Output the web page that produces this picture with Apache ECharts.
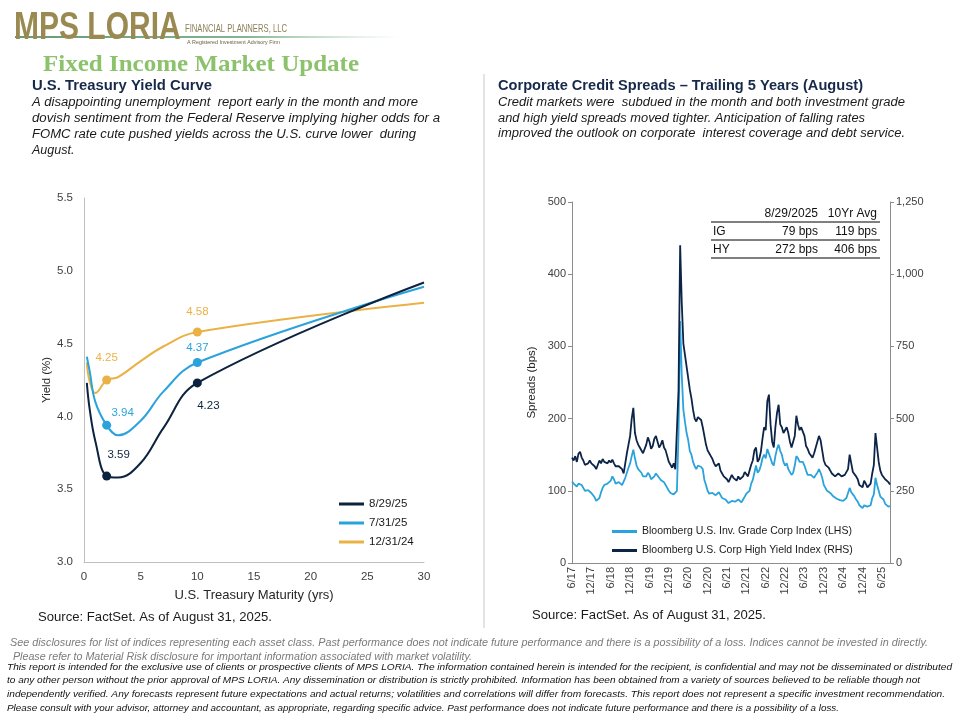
<!DOCTYPE html>
<html>
<head>
<meta charset="utf-8">
<script src="https://cdn.jsdelivr.net/npm/echarts@6/dist/echarts.min.js"></script>
<style>
html,body{margin:0;padding:0;background:#fff;}
#chart{width:960px;height:720px;}
</style>
</head>
<body>
<div id="chart"></div>
<script>
// ---------- Treasury yield curve data ----------
const maturities = [0.25, 0.5, 1, 2, 3, 5, 7, 10, 30];
const yields_082925 = [4.23, 4.05, 3.83, 3.59, 3.58, 3.68, 3.92, 4.23, 4.92];
const yields_073125 = [4.41, 4.31, 4.10, 3.94, 3.87, 3.97, 4.17, 4.37, 4.89];
const yields_123124 = [4.37, 4.24, 4.16, 4.25, 4.27, 4.38, 4.48, 4.58, 4.78];
const curveNames = ['8/29/25', '7/31/25', '12/31/24'];
const labeledMaturities = [2, 10];

// ---------- Credit spread data (two readings per month, Jun-2017 .. Aug-2025) ----------
const spreadStart = {year: 2017, month: 6};
const igSpread = [
 113,110, 108,106, 110,112, 108,104, 100,98, 101,99, 97,96,
 91,86, 84,90, 98,104, 108,106, 110,112, 114,120, 116,110, 108,112, 110,108, 110,118, 125,132, 138,148,
 157,145, 135,130, 128,125, 120,118, 120,125, 122,116, 118,120, 124,122, 118,115, 114,112, 108,104, 100,97,
 96,95, 94,100, 180,335, 260,212, 195,180, 170,155, 150,140, 134,130, 135,137, 133,130, 115,108, 100,96,
 98,97, 96,94, 95,98, 94,90, 90,88, 86,83, 82,86, 87,85, 85,88, 86,84, 88,92, 96,95,
 100,110, 115,125, 135,125, 128,135, 145,150, 145,158, 160,145, 138,135, 148,158, 164,155, 150,140, 135,138,
 130,128, 122,125, 135,148, 145,140, 142,140, 135,128, 122,120, 122,120, 118,122, 125,130, 125,118, 108,104,
 100,99, 97,95, 92,90, 89,88, 87,86, 86,88, 90,92, 104,98, 95,92, 88,85, 80,78, 76,80,
 80,78, 78,80, 90,95, 118,108, 100,92, 90,88, 82,80, 78,79
];
const hySpread = [
 365,355, 370,350, 378,385, 365,355, 340,335, 345,355, 345,340,
 335,325, 340,355, 345,360, 350,345, 345,355, 348,358, 345,335, 340,335, 330,325, 310,345, 380,410, 440,500,
 537,450, 425,410, 400,395, 380,385, 410,435, 420,395, 405,430, 440,420, 400,410, 425,400, 390,385, 350,340,
 330,345, 325,330, 600,1100, 900,760, 720,680, 640,600, 570,530, 500,490, 505,510, 495,470, 440,410, 390,380,
 370,360, 345,335, 335,345, 320,310, 300,295, 290,280, 275,305, 295,290, 285,300, 290,285, 300,315, 310,300,
 305,340, 355,390, 400,350, 360,385, 430,470, 460,560, 583,480, 420,400, 470,520, 548,480, 470,450, 455,470,
 450,420, 400,405, 440,510, 480,460, 470,455, 440,405, 395,380, 375,365, 380,400, 420,440, 425,390, 355,340,
 335,330, 320,310, 305,300, 305,310, 305,300, 300,305, 310,325, 375,345, 315,310, 300,290, 270,265, 262,285,
 275,262, 260,275, 310,340, 450,400, 350,320, 305,300, 290,285, 280,272
];
const spreadNames = ['Bloomberg U.S. Inv. Grade Corp Index (LHS)', 'Bloomberg U.S. Corp High Yield Index (RHS)'];
const tableHeader = ['', '8/29/2025', '10Yr Avg'];
const tableRows = [['IG', '79 bps', '119 bps'], ['HY', '272 bps', '406 bps']];

// category dates
const spreadDates = [];
for (let i = 0; i < igSpread.length; i++) {
  const mIdx = Math.floor(i / 2);
  const tot = spreadStart.month - 1 + mIdx;
  const y = spreadStart.year + Math.floor(tot / 12);
  const mo = tot % 12 + 1;
  spreadDates.push(y + '-' + String(mo).padStart(2, '0') + '-' + (i % 2 ? '15' : '01'));
}

// ---------- Colours / fonts ----------
const C_DARK = '#0c2340', C_BLUE = '#2aa3dc', C_GOLD = '#eab245';
const SANS = '"Liberation Sans", Arial, sans-serif';
const AXIS_TXT = '#404040';

const measureCtx = document.createElement('canvas').getContext('2d');
function fit(text, font, width) {
  measureCtx.font = font;
  const w = measureCtx.measureText(text).width;
  return w > 0 ? width / w : 1;
}
function txt(x, y, text, font, fill, extra) {
  extra = extra || {};
  const el = {
    type: 'text', x: x, y: y, silent: true,
    style: {text: text, font: font, fill: fill, textAlign: extra.align || 'left', textVerticalAlign: 'middle'}
  };
  if (extra.width) { el.scaleX = fit(text, font, extra.width); }
  if (extra.scaleY) { el.scaleY = extra.scaleY; }
  return el;
}
function hline(x1, x2, y, stroke, w) {
  return {type: 'line', silent: true, shape: {x1: x1, y1: y, x2: x2, y2: y}, style: {stroke: stroke, lineWidth: w || 1}};
}

// ---------- Left chart series ----------
const curveData = [yields_082925, yields_073125, yields_123124];
const curveColors = [C_DARK, C_BLUE, C_GOLD];
const labelCfg = [
  {2: {position: 'top', distance: 11, offset: [12, 0]}, 10: {position: 'bottom', distance: 12, offset: [11, 0]}},
  {2: {position: 'top', distance: 2, offset: [16, 0]}, 10: {position: 'top', distance: 4, offset: [0, 0]}},
  {2: {position: 'top', distance: 12, offset: [0, 0]}, 10: {position: 'top', distance: 10, offset: [0, 0]}}
];
const curveSeries = curveData.map(function (vals, s) {
  return {
    name: curveNames[s], type: 'line', xAxisIndex: 0, yAxisIndex: 0,
    smooth: 0.4, z: 10 - s,
    lineStyle: {color: curveColors[s], width: 2},
    itemStyle: {color: curveColors[s]},
    symbol: 'circle', symbolSize: 9, showSymbol: true,
    emphasis: {disabled: true},
    data: maturities.map(function (m, i) {
      if (labeledMaturities.indexOf(m) >= 0) {
        const lc = labelCfg[s][m];
        return {value: [m, vals[i]], symbol: 'circle', symbolSize: 9,
          label: {show: true, position: lc.position, distance: lc.distance, offset: lc.offset,
            formatter: function (p) { return p.value[1].toFixed(2); },
            color: curveColors[s], fontSize: 11.5, fontFamily: SANS}};
      }
      return {value: [m, vals[i]], symbol: 'none'};
    })
  };
});

// ---------- Graphic elements ----------
const graphics = [];
// logo
graphics.push({type: 'line', silent: true, shape: {x1: 15, y1: 37, x2: 400, y2: 37},
  style: {lineWidth: 1.6, stroke: {type: 'linear', x: 15, y: 0, x2: 400, y2: 0, global: true,
    colorStops: [{offset: 0, color: '#2f7a4a'}, {offset: 0.6, color: '#5d9b6c'}, {offset: 1, color: 'rgba(140,190,150,0)'}]}}});
graphics.push({type: 'text', x: 14, y: 28, silent: true, scaleY: 1.3, scaleX: 1.0,
  style: {text: 'MPS LORIA', font: '900 30px ' + SANS, fill: '#9a8a52', textAlign: 'left', textVerticalAlign: 'middle'}});
graphics.push(txt(185, 29, 'FINANCIAL PLANNERS, LLC', '11px ' + SANS, '#8b7f58', {width: 102}));
graphics.push(txt(187, 42, 'A Registered Investment Advisory Firm', '6px ' + SANS, '#6b5f3b', {width: 93}));
// title
graphics.push(txt(43, 65, 'Fixed Income Market Update', 'bold 24px "Liberation Serif", "DejaVu Serif", serif', '#8cc26c', {width: 316}));
// left heading + paragraph
graphics.push(txt(32, 86, 'U.S. Treasury Yield Curve', 'bold 14px ' + SANS, '#17294a', {width: 180}));
const leftPara = [
  ['A disappointing unemployment  report early in the month and more', 386],
  ['dovish sentiment from the Federal Reserve implying higher odds for a', 408],
  ['FOMC rate cute pushed yields across the U.S. curve lower  during', 384],
  ['August.', 0]
];
leftPara.forEach(function (l, i) {
  graphics.push(txt(32, 103 + i * 16, l[0], 'italic 12.5px ' + SANS, '#1a1a1a', l[1] ? {width: l[1]} : {}));
});
// right heading + paragraph
graphics.push(txt(498, 86, 'Corporate Credit Spreads \u2013 Trailing 5 Years (August)', 'bold 14px ' + SANS, '#17294a', {width: 365}));
const rightPara = [
  ['Credit markets were  subdued in the month and both investment grade', 407],
  ['and high yield spreads moved tighter. Anticipation of falling rates', 367],
  ['improved the outlook on corporate  interest coverage and debt service.', 407]
];
rightPara.forEach(function (l, i) { graphics.push(txt(498, 103 + i * 15.5, l[0], 'italic 12.5px ' + SANS, '#1a1a1a', {width: l[1]})); });
// divider
graphics.push({type: 'line', silent: true, shape: {x1: 484, y1: 74, x2: 484, y2: 628}, style: {stroke: '#c8c8c8', lineWidth: 1}});
// sources
graphics.push(txt(38, 617, 'Source: FactSet. As of August 31, 2025.', '13px ' + SANS, '#1a1a1a', {width: 234}));
graphics.push(txt(532, 615, 'Source: FactSet. As of August 31, 2025.', '13px ' + SANS, '#1a1a1a', {width: 234}));
// table
graphics.push(txt(818, 214, tableHeader[1], '12px ' + SANS, '#111', {align: 'right'}));
graphics.push(txt(877, 214, tableHeader[2], '12px ' + SANS, '#111', {align: 'right'}));
graphics.push(hline(711, 880, 222, '#000', 1));
tableRows.forEach(function (r, i) {
  const y = 232 + i * 18;
  graphics.push(txt(713, y, r[0], '12px ' + SANS, '#111'));
  graphics.push(txt(818, y, r[1], '12px ' + SANS, '#111', {align: 'right'}));
  graphics.push(txt(877, y, r[2], '12px ' + SANS, '#111', {align: 'right'}));
  graphics.push(hline(711, 880, 240 + i * 18, '#000', 1));
});
// footers
const grayFoot = [
  ['See disclosures for list of indices representing each asset class. Past performance does not indicate future performance and there is a possibility of a loss. Indices cannot be invested in directly.', 10, 643, 918],
  [' Please refer to Material Risk disclosure for important information associated with market volatility.', 10, 657, 462]
];
grayFoot.forEach(function (f) { graphics.push(txt(f[1], f[2], f[0], 'italic 10px ' + SANS, '#7a7a7a', {width: f[3]})); });
const blackFoot = [
  ['This report is intended for the exclusive use of clients or prospective clients of MPS LORIA. The information contained herein is intended for the recipient, is confidential and may not be disseminated or distributed', 945],
  ['to any other person without the prior approval of MPS LORIA. Any dissemination or distribution is strictly prohibited. Information has been obtained from a variety of sources believed to be reliable though not', 913],
  ['independently verified. Any forecasts represent future expectations and actual returns; volatilities and correlations will differ from forecasts. This report does not represent a specific investment recommendation.', 938],
  ['Please consult with your advisor, attorney and accountant, as appropriate, regarding specific advice. Past performance does not indicate future performance and there is a possibility of a loss.', 832]
];
blackFoot.forEach(function (f, i) { graphics.push(txt(7, 667 + i * 13.8, f[0], 'italic 9px ' + SANS, '#111', {width: f[1]})); });

// ---------- Chart ----------
const chart = echarts.init(document.getElementById('chart'), null, {renderer: 'canvas'});
chart.setOption({
  animation: false,
  backgroundColor: '#ffffff',
  textStyle: {fontFamily: SANS},
  grid: [
    {left: 84, top: 198, width: 340, height: 364},
    {left: 572, top: 202, width: 318, height: 361}
  ],
  xAxis: [
    {type: 'value', gridIndex: 0, min: 0, max: 30, interval: 5,
      name: 'U.S. Treasury Maturity (yrs)', nameLocation: 'middle', nameGap: 27,
      nameTextStyle: {fontSize: 13, color: '#262626'},
      axisLine: {lineStyle: {color: '#bfbfbf'}}, axisTick: {show: false},
      axisLabel: {fontSize: 11.5, color: AXIS_TXT, margin: 9}, splitLine: {show: false}},
    {type: 'category', gridIndex: 1, data: spreadDates, boundaryGap: false,
      axisLine: {lineStyle: {color: '#8c8c8c'}}, axisTick: {show: false},
      axisLabel: {rotate: 90, fontSize: 11, color: AXIS_TXT, margin: 4,
        interval: function (idx) { return idx % 12 === 0; },
        formatter: function (v) { const p = v.split('-'); return parseInt(p[1], 10) + '/' + p[0].slice(2); }},
      splitLine: {show: false}}
  ],
  yAxis: [
    {type: 'value', gridIndex: 0, min: 3.0, max: 5.5, interval: 0.5,
      name: 'Yield (%)', nameLocation: 'middle', nameGap: 31, nameRotate: 90,
      nameTextStyle: {fontSize: 11.5, color: '#262626'},
      axisLine: {show: true, lineStyle: {color: '#bfbfbf'}}, axisTick: {show: false},
      axisLabel: {fontSize: 11.5, color: AXIS_TXT, margin: 11, formatter: function (v) { return v.toFixed(1); }},
      splitLine: {show: false}},
    {type: 'value', gridIndex: 1, min: 0, max: 500, interval: 100, position: 'left',
      name: 'Spreads (bps)', nameLocation: 'middle', nameGap: 34, nameRotate: 90,
      nameTextStyle: {fontSize: 11.5, color: '#262626'},
      axisLine: {show: true, lineStyle: {color: '#8c8c8c'}}, axisTick: {show: true, length: 4, lineStyle: {color: '#8c8c8c'}},
      axisLabel: {fontSize: 11, color: AXIS_TXT, margin: 6}, splitLine: {show: false}},
    {type: 'value', gridIndex: 1, min: 0, max: 1250, interval: 250, position: 'right',
      axisLine: {show: true, lineStyle: {color: '#8c8c8c'}}, axisTick: {show: true, length: 4, lineStyle: {color: '#8c8c8c'}},
      axisLabel: {fontSize: 11, color: AXIS_TXT, margin: 6, formatter: function (v) { return v.toLocaleString('en-US'); }},
      splitLine: {show: false}}
  ],
  legend: [
    {data: curveNames, orient: 'vertical', left: 334, top: 493, itemGap: 7, itemWidth: 25, itemHeight: 3, icon: 'rect',
      selectedMode: false, textStyle: {fontSize: 11.5, color: '#1a1a1a'}},
    {data: spreadNames, orient: 'vertical', left: 607, top: 521, itemGap: 8, itemWidth: 25, itemHeight: 3, icon: 'rect',
      selectedMode: false, textStyle: {fontSize: 10.5, color: '#1a1a1a'}}
  ],
  series: curveSeries.concat([
    {name: spreadNames[0], type: 'line', xAxisIndex: 1, yAxisIndex: 1, data: igSpread,
      symbol: 'none', lineStyle: {color: C_BLUE, width: 1.8}, itemStyle: {color: C_BLUE}, emphasis: {disabled: true}},
    {name: spreadNames[1], type: 'line', xAxisIndex: 1, yAxisIndex: 2, data: hySpread,
      symbol: 'none', lineStyle: {color: '#0b2447', width: 1.8}, itemStyle: {color: '#0b2447'}, emphasis: {disabled: true}}
  ]),
  graphic: graphics
});
</script>
</body>
</html>
